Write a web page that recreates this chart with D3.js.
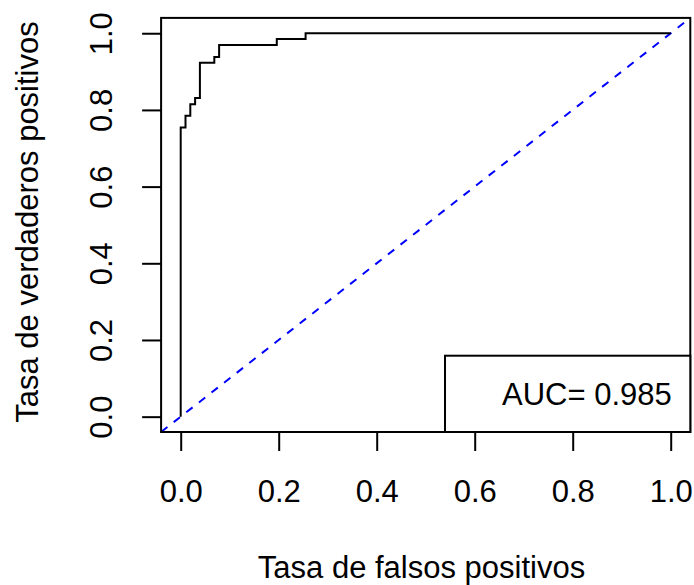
<!DOCTYPE html>
<html>
<head>
<meta charset="utf-8">
<script src="https://cdn.jsdelivr.net/npm/d3@7"></script>
<style>
    body { margin: 0; background: #fff; }
    svg { display: block; font-family: "Liberation Sans", Arial, sans-serif; }
</style>
</head>
<body>
<div id="chart"></div>
<script>
// ROC curve points (false positive rate, true positive rate)
const fpr = [0, 0, 0.0098, 0.0098, 0.0196, 0.0196, 0.0294, 0.0294, 0.0392, 0.0392,
             0.0686, 0.0686, 0.0784, 0.0784, 0.1961, 0.1961, 0.2549, 0.2549, 1];
const tpr = [0, 0.754, 0.754, 0.785, 0.785, 0.815, 0.815, 0.831, 0.831, 0.923,
             0.923, 0.938, 0.938, 0.969, 0.969, 0.985, 0.985, 1, 1];
const ticks = [0, 0.2, 0.4, 0.6, 0.8, 1.0];
const refLine = [-0.04, 1.04];
const aucLabel = "AUC= 0.985";
const xTitle = "Tasa de falsos positivos";
const yTitle = "Tasa de verdaderos positivos";

const width = 694, height = 585;
const plotLeft = 161.1, plotRight = 690.3, plotTop = 17.9, plotBottom = 432;
const fontSize = "31px";

const svg = d3.select("#chart").append("svg")
    .attr("width", width)
    .attr("height", height);

const x = d3.scaleLinear().domain([-0.04, 1.04]).range([plotLeft, plotRight]);
const y = d3.scaleLinear().domain([-0.04, 1.04]).range([plotBottom, plotTop]);

// diagonal reference line
svg.append("line")
    .attr("x1", x(refLine[0])).attr("y1", y(refLine[0]))
    .attr("x2", x(refLine[1])).attr("y2", y(refLine[1]))
    .attr("stroke", "#0000ff")
    .attr("stroke-width", 2)
    .attr("stroke-dasharray", "8,8");

// roc curve
const pts = fpr.map((f, i) => [f, tpr[i]]);
svg.append("path")
    .datum(pts)
    .attr("fill", "none")
    .attr("stroke", "#000")
    .attr("stroke-width", 2)
    .attr("d", d3.line().x(d => x(d[0])).y(d => y(d[1])));

// axes
const xAxis = svg.append("g")
    .attr("transform", `translate(0,${plotBottom})`)
    .call(d3.axisBottom(x).tickValues(ticks).tickFormat(d3.format(".1f")).tickSize(19));

const yAxis = svg.append("g")
    .attr("transform", `translate(${plotLeft},0)`)
    .call(d3.axisLeft(y).tickValues(ticks).tickFormat(d3.format(".1f")).tickSize(19));

[xAxis, yAxis].forEach(g => {
    g.select(".domain").remove();
    g.attr("font-family", null).attr("font-size", null);
    g.selectAll(".tick line").attr("stroke", "#000").attr("stroke-width", 2);
    g.selectAll(".tick text")
        .attr("fill", "#000")
        .style("font-size", fontSize)
        .attr("dy", null);
});

xAxis.selectAll(".tick text").attr("y", 69.7);
yAxis.selectAll(".tick text")
    .attr("x", null)
    .attr("text-anchor", "middle")
    .attr("transform", "translate(-49.1,0) rotate(-90)");

// frame
svg.append("rect")
    .attr("x", plotLeft).attr("y", plotTop)
    .attr("width", plotRight - plotLeft).attr("height", plotBottom - plotTop)
    .attr("fill", "none")
    .attr("stroke", "#000")
    .attr("stroke-width", 2);

// legend
svg.append("rect")
    .attr("x", 445).attr("y", 355.7)
    .attr("width", plotRight - 445).attr("height", plotBottom - 355.7)
    .attr("fill", "#fff")
    .attr("stroke", "#000")
    .attr("stroke-width", 2);

svg.append("text")
    .attr("x", 502).attr("y", 405)
    .style("font-size", fontSize)
    .text(aucLabel);

// titles
svg.append("text")
    .attr("x", 421.5).attr("y", 578)
    .attr("text-anchor", "middle")
    .style("font-size", fontSize)
    .text(xTitle);

svg.append("text")
    .attr("transform", "translate(38,222) rotate(-90)")
    .attr("text-anchor", "middle")
    .style("font-size", fontSize)
    .text(yTitle);
</script>
</body>
</html>
